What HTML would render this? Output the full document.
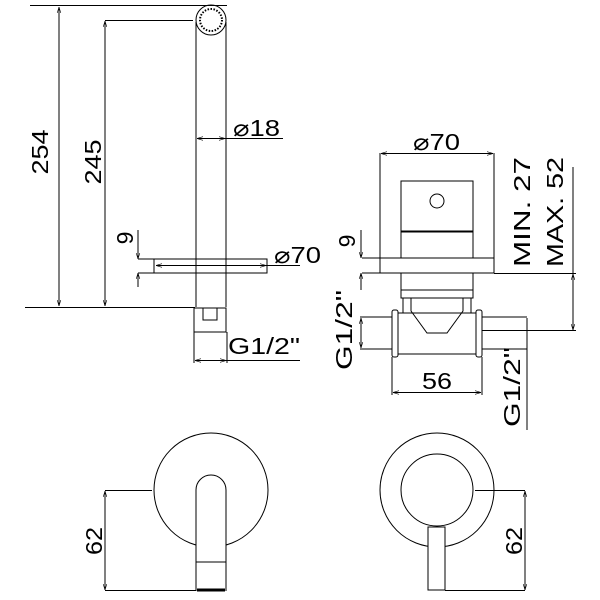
<!DOCTYPE html>
<html><head><style>body{margin:0;background:#fff}svg{display:block}text{font-family:"Liberation Sans",sans-serif;fill:#000}</style></head>
<body>
<svg width="600" height="600" viewBox="0 0 600 600" xmlns="http://www.w3.org/2000/svg">
<defs><marker id="a" viewBox="0 0 10 10" refX="10" refY="5" markerWidth="6" markerHeight="6" orient="auto-start-reverse"><path d="M0,2 L10,5 L0,8" fill="none" stroke="#000" stroke-width="1"/></marker></defs>
<g fill="none" stroke="#000" stroke-width="1">
<line x1="30" y1="5.5" x2="227" y2="5.5"/>
<line x1="59" y1="7" x2="59" y2="306" marker-start="url(#a)" marker-end="url(#a)"/>
<line x1="105" y1="20.5" x2="193" y2="20.5"/>
<line x1="105" y1="21" x2="105" y2="306" marker-start="url(#a)" marker-end="url(#a)"/>
<line x1="25" y1="307.5" x2="195" y2="307.5"/>
<circle cx="211" cy="20" r="15"/>
<circle cx="211" cy="20" r="11" stroke-dasharray="1.5 1.5" stroke-width="2"/>
<line x1="196" y1="22" x2="196" y2="307"/>
<line x1="226" y1="22" x2="226" y2="307"/>
<rect x="194" y="308" width="32" height="24"/>
<polyline points="203,308 203,320 217,320 217,308"/>
<line x1="194" y1="332" x2="194" y2="363"/>
<line x1="227" y1="332" x2="227" y2="363"/>
<line x1="195" y1="360.5" x2="226" y2="360.5" marker-start="url(#a)" marker-end="url(#a)"/>
<line x1="226" y1="360.5" x2="300" y2="360.5"/>
<line x1="197" y1="138.5" x2="225" y2="138.5" marker-start="url(#a)" marker-end="url(#a)"/>
<line x1="225" y1="138.5" x2="283" y2="138.5"/>
<rect x="154" y="259" width="113" height="14"/>
<line x1="156" y1="265.5" x2="266" y2="265.5" marker-start="url(#a)" marker-end="url(#a)"/>
<line x1="266" y1="265.5" x2="300" y2="265.5"/>
<line x1="138" y1="259" x2="154" y2="259"/>
<line x1="138" y1="273" x2="154" y2="273"/>
<line x1="138" y1="230" x2="138" y2="259" marker-end="url(#a)"/>
<line x1="138" y1="287" x2="138" y2="273" marker-end="url(#a)"/>
<line x1="380" y1="153" x2="380" y2="258"/>
<line x1="494" y1="153" x2="494" y2="258"/>
<line x1="381" y1="153.5" x2="493" y2="153.5" marker-start="url(#a)" marker-end="url(#a)"/>
<rect x="380" y="258" width="114" height="15"/>
<rect x="401" y="181" width="72" height="50"/>
<circle cx="437" cy="201" r="7"/>
<rect x="401" y="232" width="72" height="26"/>
<rect x="401" y="273" width="72" height="17"/>
<rect x="401" y="290" width="72" height="8"/>
<polyline points="403,298 403,313"/><polyline points="471,298 471,313"/>
<polyline points="411,298 411,311 427,333 447,333 463,311 463,298"/>
<rect x="392" y="310" width="6" height="47" rx="2"/>
<rect x="476" y="310" width="6" height="47" rx="2"/>
<rect x="398" y="313" width="78" height="41"/>
<line x1="360" y1="317" x2="392" y2="317"/><line x1="360" y1="349" x2="392" y2="349"/>
<line x1="482" y1="317" x2="527" y2="317"/><line x1="482" y1="349" x2="527" y2="349"/>
<line x1="361" y1="318" x2="361" y2="348" marker-start="url(#a)" marker-end="url(#a)"/>
<line x1="527" y1="318" x2="527" y2="430" />
<line x1="392" y1="357" x2="392" y2="395"/><line x1="482" y1="357" x2="482" y2="395"/>
<line x1="393" y1="392.5" x2="481" y2="392.5" marker-start="url(#a)" marker-end="url(#a)"/>
<line x1="362" y1="258" x2="380" y2="258"/><line x1="362" y1="273" x2="380" y2="273"/>
<line x1="361" y1="230" x2="361" y2="258" marker-end="url(#a)"/>
<line x1="361" y1="290" x2="361" y2="273" marker-end="url(#a)"/>
<line x1="494" y1="273.5" x2="576" y2="273.5"/>
<line x1="482" y1="330.5" x2="576" y2="330.5"/>
<line x1="573" y1="167" x2="573" y2="274"/>
<line x1="573" y1="274" x2="573" y2="330" marker-start="url(#a)" marker-end="url(#a)"/>
<circle cx="211" cy="490" r="57"/>
<rect x="196" y="475" width="30" height="116" fill="#fff" stroke="none"/>
<path d="M196,591 V490 a15,15 0 0 1 30,0 V591" fill="#fff"/>
<line x1="196" y1="562" x2="226" y2="562"/>
<line x1="197" y1="590" x2="225" y2="590" stroke-width="3"/>
<line x1="105" y1="490.5" x2="152" y2="490.5"/>
<line x1="105" y1="590.5" x2="196" y2="590.5"/>
<line x1="105" y1="491" x2="105" y2="590" marker-start="url(#a)" marker-end="url(#a)"/>
<circle cx="437" cy="490" r="57"/>
<circle cx="437" cy="490" r="36"/>
<rect x="428" y="527" width="17" height="63" fill="#fff"/>
<line x1="475" y1="490.5" x2="525" y2="490.5"/>
<line x1="445" y1="590.5" x2="525" y2="590.5"/>
<line x1="525" y1="491" x2="525" y2="590" marker-start="url(#a)" marker-end="url(#a)"/>
</g>
<g font-size="23" lengthAdjust="spacingAndGlyphs">
<text transform="translate(48,152) rotate(-90)" text-anchor="middle" textLength="45" lengthAdjust="spacingAndGlyphs">254</text>
<text transform="translate(101,162) rotate(-90)" text-anchor="middle" textLength="45" lengthAdjust="spacingAndGlyphs">245</text>
<text transform="translate(133,238) rotate(-90)" text-anchor="middle">9</text>
<text x="233" y="136" textLength="47" lengthAdjust="spacingAndGlyphs">⌀18</text>
<text x="274" y="263" textLength="47" lengthAdjust="spacingAndGlyphs">⌀70</text>
<text x="228" y="354" textLength="72" lengthAdjust="spacingAndGlyphs">G1/2"</text>
<text x="413" y="150" textLength="47" lengthAdjust="spacingAndGlyphs">⌀70</text>
<text transform="translate(355,241) rotate(-90)" text-anchor="middle">9</text>
<text transform="translate(352,330) rotate(-90)" text-anchor="middle" textLength="80" lengthAdjust="spacingAndGlyphs">G1/2"</text>
<text x="437" y="389" text-anchor="middle" textLength="30" lengthAdjust="spacingAndGlyphs">56</text>
<text transform="translate(520,387) rotate(-90)" text-anchor="middle" textLength="80" lengthAdjust="spacingAndGlyphs">G1/2"</text>
<text transform="translate(530,212) rotate(-90)" text-anchor="middle" textLength="110" lengthAdjust="spacingAndGlyphs">MIN. 27</text>
<text transform="translate(563,212) rotate(-90)" text-anchor="middle" textLength="110" lengthAdjust="spacingAndGlyphs">MAX. 52</text>
<text transform="translate(102,541) rotate(-90)" text-anchor="middle" textLength="28" lengthAdjust="spacingAndGlyphs">62</text>
<text transform="translate(522,541) rotate(-90)" text-anchor="middle" textLength="28" lengthAdjust="spacingAndGlyphs">62</text>
</g>
</svg>
</body></html>
